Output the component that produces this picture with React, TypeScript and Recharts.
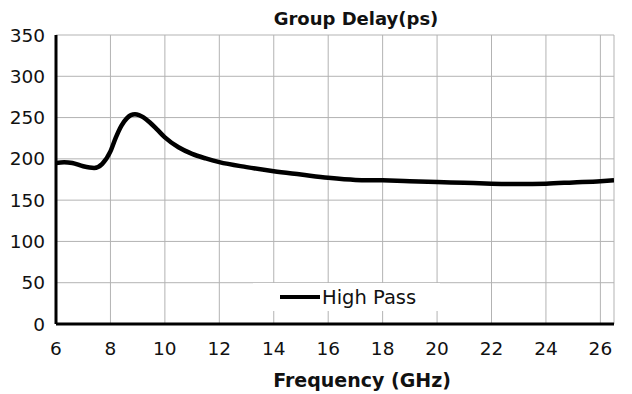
import React from "react";
import {
  LineChart,
  Line,
  XAxis,
  YAxis,
  CartesianGrid,
} from "recharts";

const frequencies = [
  6.0, 6.3, 6.6, 7.0, 7.4, 7.7, 8.0, 8.2, 8.4, 8.6, 8.75, 8.9, 9.05, 9.2, 9.45,
  9.7, 10.0, 10.5, 11.0, 11.5, 12, 13, 14, 15, 16, 17, 18, 19, 20, 21, 22, 23,
  24, 25, 26, 26.5,
];
const highPass = [
  195, 196, 195, 191, 189, 194, 209, 226, 240, 249, 253, 254, 253, 250.5, 244,
  236, 226, 214, 206, 200.5, 196, 190, 185, 181, 177, 174.5, 174, 173, 172, 171,
  170, 169.5, 170, 171.5, 173, 174,
];
const xTicks = [6, 8, 10, 12, 14, 16, 18, 20, 22, 24, 26];
const yTicks = [0, 50, 100, 150, 200, 250, 300, 350];

const data = frequencies.map((f, i) => ({ f, hp: highPass[i] }));

const font = "'DejaVu Sans', sans-serif";
const tickStyle = { fontSize: 18.5, fill: "#111", fontFamily: font };

export default function App() {
  return (
    <div style={{ position: "absolute", left: 0, top: 0, background: "#fff" }}>
      <LineChart
        width={632}
        height={394}
        data={data}
        margin={{ top: 35, right: 18, left: 0, bottom: 0 }}
      >
        <CartesianGrid stroke="#b3b3b3" strokeWidth={1} />
        <XAxis
          dataKey="f"
          type="number"
          domain={[6, 26.5]}
          ticks={xTicks}
          allowDataOverflow
          height={70}
          tickLine={false}
          tickSize={0}
          tickMargin={18}
          tick={tickStyle}
          axisLine={{ stroke: "#000", strokeWidth: 3 }}
        />
        <XAxis
          xAxisId="top"
          orientation="top"
          type="number"
          domain={[6, 26.5]}
          height={0}
          tick={false}
          tickLine={false}
          axisLine={{ stroke: "#000", strokeWidth: 3 }}
        />
        <YAxis
          type="number"
          domain={[0, 350]}
          ticks={yTicks}
          width={56}
          tickLine={false}
          tickSize={0}
          tickMargin={11}
          tick={tickStyle}
          axisLine={{ stroke: "#000", strokeWidth: 3 }}
        />
        <YAxis
          yAxisId="right"
          orientation="right"
          domain={[0, 350]}
          width={0}
          tick={false}
          tickLine={false}
          axisLine={{ stroke: "#000", strokeWidth: 3 }}
        />
        <Line
          dataKey="hp"
          type="monotone"
          stroke="#000"
          strokeWidth={4.5}
          dot={false}
          isAnimationActive={false}
        />
        <text
          x={356}
          y={25}
          textAnchor="middle"
          fontFamily={font}
          fontWeight="bold"
          fontSize={18}
          fill="#111"
        >
          Group Delay(ps)
        </text>
        <text
          x={362}
          y={387}
          textAnchor="middle"
          fontFamily={font}
          fontWeight="bold"
          fontSize={19}
          fill="#111"
        >
          Frequency (GHz)
        </text>
        <rect x={253} y={283} width={187} height={28} fill="#fff" />
        <line x1={280} y1={297} x2={320} y2={297} stroke="#000" strokeWidth={4} />
        <text x={322} y={304} fontFamily={font} fontSize={19.5} fill="#111">
          High Pass
        </text>
      </LineChart>
    </div>
  );
}
